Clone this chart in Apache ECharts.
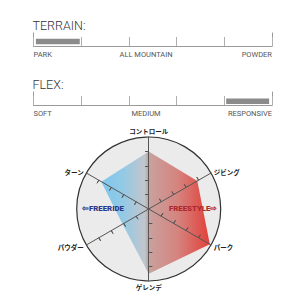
<!DOCTYPE html>
<html>
<head>
<meta charset="utf-8">
<script src="https://cdn.jsdelivr.net/npm/echarts@6/dist/echarts.min.js"></script>
<style>
html,body{margin:0;padding:0;background:#fff;}
#c{width:300px;height:300px;}
</style>
</head>
<body>
<div id="c"></div>
<script>
// ---- data ----
const scaleTicks = [0, 1, 2, 3, 4, 5];
const terrainTitle = 'TERRAIN:';
const terrainLabels = ['PARK', 'ALL MOUNTAIN', 'POWDER'];
const terrainLabelPos = [0, 2.36, 5];
const terrainRange = [0.05, 0.97];
const flexTitle = 'FLEX:';
const flexLabels = ['SOFT', 'MEDIUM', 'RESPONSIVE'];
const flexLabelPos = [0, 2.36, 5];
const flexRange = [4.04, 4.94];
const radarNames = ['コントロール', 'ターン', 'パウダー', 'ゲレンデ', 'パーク', 'ジビング'];
const radarValues = [4, 3.8, 2.1, 4.5, 4.9, 3.9];
const radarMax = 5;
const radarTicks = [1, 2, 3, 4];
const sideLabels = ['⇦FREERIDE', 'FREESTYLE⇨'];

const chart = echarts.init(document.getElementById('c'), null, {renderer: 'svg'});

const L = 33.5, R = 28;
function labelFmt(labels, pos) {
  return function (v) {
    for (let i = 0; i < pos.length; i++) if (Math.abs(pos[i] - v) < 1e-6) return labels[i];
    return '';
  };
}
function scaleXAxis(grid, labels, pos) {
  return {
    gridIndex: grid, type: 'value', min: 0, max: 5, interval: 1, position: 'bottom',
    axisLine: {show: true, onZero: false, lineStyle: {color: '#9a9a9a', width: 1}},
    axisTick: {show: true, inside: true, length: 9, customValues: scaleTicks, lineStyle: {color: '#b0b0b0', width: 1}},
    axisLabel: {
      show: true, customValues: pos, formatter: labelFmt(labels, pos),
      fontSize: 7.5, color: '#555', fontFamily: 'Roboto', margin: 4,
      alignMinLabel: 'left', alignMaxLabel: 'right', showMinLabel: true, showMaxLabel: true
    },
    splitLine: {show: false}
  };
}
function hiddenX(grid) {
  return {gridIndex: grid, type: 'value', min: 0, max: 5, show: false};
}
function edgeY(grid, pos) {
  return {
    gridIndex: grid, type: 'value', min: 0, max: 1, position: pos,
    axisLine: {show: true, onZero: false, lineStyle: {color: '#9a9a9a', width: 1}},
    axisTick: {show: false}, axisLabel: {show: false}, splitLine: {show: false}
  };
}
function catY(grid) {
  return {gridIndex: grid, type: 'category', data: ['v'], show: false};
}
function barRender(params, api) {
  const s = api.coord([api.value(0), api.value(2)]);
  const e = api.coord([api.value(1), api.value(2)]);
  const h = api.size([0, 1])[1] * 0.92;
  return {type: 'rect', shape: {x: s[0], y: s[1] - h / 2, width: e[0] - s[0], height: h}, style: {fill: '#8b8b8b'}};
}

const nameStyle = {show: true, color: '#222', fontSize: 6.5, fontWeight: 'bold', fontFamily: 'Noto Sans CJK JP'};
const indicator = radarNames.map(n => ({name: n, max: radarMax, min: 0}));
const C = [148.7, 209], RAD = 72;
const titleStyle = {fontFamily: 'Roboto', fontWeight: 300, fontSize: 12.5, color: '#333'};

const option = {
  animation: false,
  title: [
    {text: terrainTitle, left: 32.5, top: 19, padding: 0, textStyle: titleStyle},
    {text: flexTitle, left: 32.5, top: 78, padding: 0, textStyle: titleStyle}
  ],
  grid: [
    {left: L, right: R, top: 33, height: 13},
    {left: L, right: R, top: 38.5, height: 6},
    {left: L, right: R, top: 92, height: 13},
    {left: L, right: R, top: 98.2, height: 6}
  ],
  xAxis: [
    scaleXAxis(0, terrainLabels, terrainLabelPos),
    hiddenX(1),
    scaleXAxis(2, flexLabels, flexLabelPos),
    hiddenX(3)
  ],
  yAxis: [
    edgeY(0, 'left'), edgeY(0, 'right'), catY(1),
    edgeY(2, 'left'), edgeY(2, 'right'), catY(3)
  ],
  radar: [
    {
      center: C, radius: RAD, startAngle: 90, shape: 'circle', splitNumber: 1, indicator: indicator, z: 1,
      axisName: {show: false}, axisLine: {show: false}, axisTick: {show: false},
      splitLine: {show: true, lineStyle: {color: '#333', width: 1.2}},
      splitArea: {show: true, areaStyle: {color: ['#ebebeb']}}
    },
    {
      center: C, radius: RAD, startAngle: 90, shape: 'circle', splitNumber: 5, indicator: indicator, z: 5,
      axisName: nameStyle, nameGap: 3,
      axisLine: {show: true, lineStyle: {color: '#555', width: 1}},
      axisTick: {show: true, inside: true, length: 3.5, customValues: radarTicks, lineStyle: {color: '#555', width: 1}},
      splitLine: {show: false}, splitArea: {show: false}
    },
    {
      center: C, radius: RAD, startAngle: 90, shape: 'circle', splitNumber: 5, indicator: indicator, z: 5,
      axisName: {show: false},
      axisLine: {show: false},
      axisTick: {show: true, inside: false, length: 3.5, customValues: radarTicks, lineStyle: {color: '#555', width: 1}},
      splitLine: {show: false}, splitArea: {show: false}
    }
  ],
  graphic: [
    {type: 'text', left: 82, top: 204.5, z: 20, style: {text: sideLabels[0], fill: '#2b3a8c', fontSize: 7.8, fontWeight: 900, fontFamily: 'Roboto'}},
    {type: 'text', left: 169, top: 204.5, z: 20, style: {text: sideLabels[1], fill: '#b0272c', fontSize: 7.8, fontWeight: 900, fontFamily: 'Roboto'}}
  ],
  series: [
    {
      type: 'custom', xAxisIndex: 1, yAxisIndex: 2, renderItem: barRender,
      encode: {x: [0, 1], y: 2}, data: [[terrainRange[0], terrainRange[1], 0]]
    },
    {
      type: 'custom', xAxisIndex: 3, yAxisIndex: 5, renderItem: barRender,
      encode: {x: [0, 1], y: 2}, data: [[flexRange[0], flexRange[1], 0]]
    },
    {
      type: 'radar', radarIndex: 0, z: 2, symbol: 'none',
      lineStyle: {width: 0},
      areaStyle: {
        opacity: 1,
        color: new echarts.graphic.LinearGradient(0, 0, 1, 0, [
          {offset: 0, color: '#7fc6ec'},
          {offset: 0.2, color: '#93cae6'},
          {offset: 0.40, color: '#c2c5cc'},
          {offset: 0.427, color: '#b8acac'},
          {offset: 0.44, color: '#c9a19e'},
          {offset: 0.7, color: '#d5847f'},
          {offset: 1, color: '#e2403a'}
        ])
      },
      data: [{value: radarValues}]
    }
  ]
};
chart.setOption(option);
</script>
</body>
</html>
